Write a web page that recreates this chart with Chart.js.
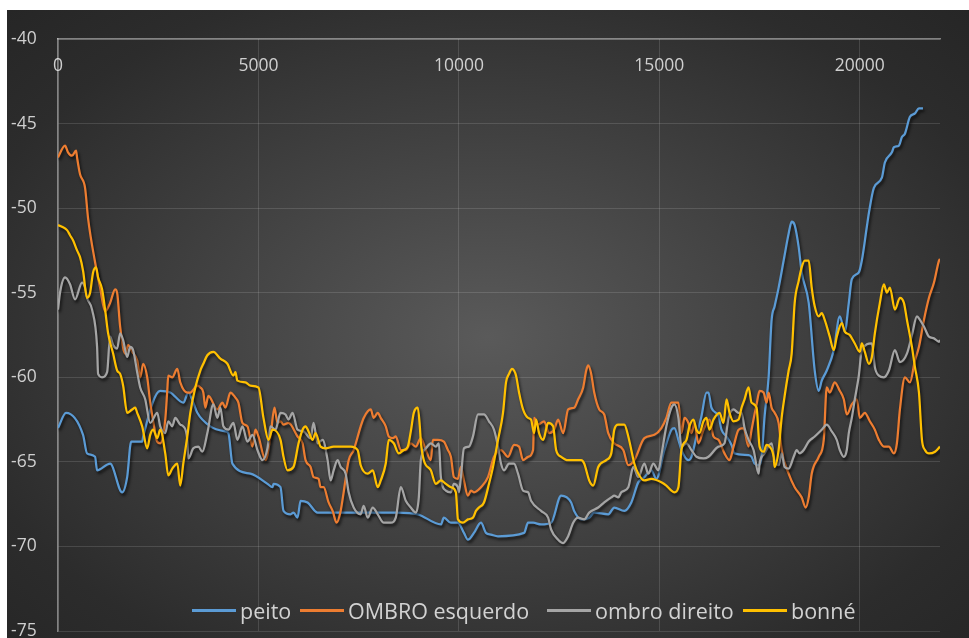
<!DOCTYPE html>
<html>
<head>
<meta charset="utf-8">
<script src="https://cdn.jsdelivr.net/npm/chart.js@4.4.1/dist/chart.umd.min.js"></script>
<style>
  html, body { margin: 0; padding: 0; background: #ffffff; width: 969px; height: 638px; overflow: hidden; font-family: "Open Sans", sans-serif; }
  #panel { position: absolute; left: 7px; top: 10px; width: 962px; height: 628px; overflow: hidden;
           background: radial-gradient(ellipse farthest-corner at 50% 52%, #5a5a5a 0%, #2c2c2c 80%, #262626 100%); }
  #chart { position: absolute; left: 0; top: 0; }
  #legend { position: absolute; left: 0; top: 585px; height: 30px; width: 962px; }
  .item { position: absolute; top: 0; height: 30px; display: flex; align-items: center;
          font-size: 21.5px; color: #d2d2d2; white-space: nowrap; }
  .swatch { width: 44px; height: 3px; margin-right: 4px; }
</style>
</head>
<body>
<div id="panel">
  <canvas id="chart" width="962" height="640" style="width:962px;height:640px"></canvas>
  <div id="legend"></div>
</div>
<script>
// Axis settings
const xTicks = { min: 0, max: 22000, step: 5000, last: 20000 };
const yTicks = { min: -75, max: -40, step: 5 };

// Series names and colours
const seriesNames = ['peito', 'OMBRO esquerdo', 'ombro direito', 'bonné'];
const seriesColors = ['#5B9BD5', '#ED7D31', '#A5A5A5', '#FFC000'];

// Left edge of each legend entry inside the panel
const legendLeft = [185, 293, 540, 736];

// [x, value] pairs for each series
const peito = [[0,-63.0],[200,-62.1],[625,-63.4],[725,-64.5],[925,-64.7],[975,-65.5],[1300,-65.1],[1600,-66.8],[1725,-65.9],[1825,-63.8],[2100,-63.8],[2125,-63.5],[2550,-60.8],[2800,-60.9],[3125,-61.5],[3250,-60.9],[3375,-61.5],[3475,-62.1],[3800,-62.9],[4175,-63.2],[4250,-63.3],[4350,-65.1],[4800,-65.7],[5225,-66.3],[5350,-66.5],[5375,-66.3],[5550,-66.5],[5625,-67.9],[5800,-68.1],[5875,-68.0],[5975,-68.3],[6050,-67.3],[6225,-67.4],[6475,-68.0],[6750,-68.0],[7050,-68.0],[7875,-68.0],[8475,-68.0],[8975,-68.1],[9550,-68.7],[9625,-68.3],[9800,-68.6],[9975,-68.6],[10125,-69.2],[10225,-69.6],[10375,-69.2],[10550,-68.6],[10675,-69.2],[10800,-69.3],[10975,-69.4],[11625,-69.2],[11725,-68.6],[11850,-68.6],[12050,-68.7],[12300,-68.6],[12550,-67.0],[12800,-67.4],[12875,-67.9],[13050,-68.4],[13250,-68.3],[13375,-68.0],[13725,-68.1],[13875,-67.7],[14125,-67.9],[14300,-67.4],[14475,-66.2],[14625,-65.9],[14800,-65.5],[14925,-66.0],[15125,-64.3],[15300,-63.1],[15375,-63.0],[15475,-63.7],[15550,-64.3],[15725,-64.9],[15800,-64.7],[15925,-63.5],[16050,-62.3],[16175,-60.9],[16225,-60.9],[16300,-61.8],[16475,-62.3],[16550,-63.1],[16675,-63.5],[16800,-64.0],[16875,-64.5],[17225,-64.6],[17300,-64.7],[17375,-65.1],[17475,-65.2],[17550,-64.7],[17625,-62.3],[17725,-60.0],[17800,-56.6],[17875,-55.8],[17975,-54.7],[18100,-53.1],[18225,-51.5],[18300,-50.8],[18375,-51.0],[18475,-52.3],[18550,-53.8],[18725,-55.6],[18875,-59.6],[18975,-60.8],[19050,-60.2],[19175,-59.6],[19350,-58.4],[19500,-56.4],[19625,-57.3],[19725,-55.6],[19800,-54.2],[19975,-53.8],[20050,-53.1],[20175,-51.1],[20225,-50.3],[20350,-48.8],[20550,-48.2],[20625,-47.3],[20800,-46.7],[20850,-46.4],[20975,-46.3],[21050,-45.8],[21125,-45.6],[21250,-44.6],[21375,-44.4],[21475,-44.1],[21575,-44.1]];

const ombroEsquerdo = [[0,-47.0],[175,-46.3],[250,-46.7],[350,-46.9],[450,-46.6],[475,-47.0],[550,-48.0],[675,-48.8],[750,-50.6],[925,-53.2],[1050,-54.7],[1175,-56.1],[1300,-55.6],[1425,-54.8],[1475,-55.0],[1550,-57.0],[1675,-58.6],[1750,-58.1],[1850,-58.5],[1975,-59.0],[2050,-60.0],[2125,-59.2],[2225,-60.0],[2300,-61.5],[2375,-62.6],[2475,-63.8],[2550,-63.9],[2675,-62.5],[2725,-60.8],[2750,-59.9],[2850,-60.0],[2975,-59.5],[3050,-60.3],[3225,-60.9],[3300,-60.9],[3475,-60.5],[3550,-60.6],[3625,-60.9],[3675,-61.8],[3750,-61.1],[3975,-61.9],[4100,-61.5],[4175,-61.8],[4300,-60.9],[4425,-61.2],[4500,-61.5],[4600,-62.7],[4725,-62.9],[4850,-64.1],[4925,-63.1],[5000,-63.5],[5175,-64.9],[5300,-63.5],[5400,-61.8],[5475,-62.7],[5550,-62.6],[5625,-62.8],[5750,-62.7],[5975,-63.5],[6100,-63.9],[6175,-64.9],[6300,-65.3],[6375,-65.9],[6500,-66.0],[6550,-66.5],[6625,-66.5],[6750,-67.4],[6850,-67.9],[6950,-68.6],[7050,-67.9],[7125,-66.8],[7250,-64.9],[7375,-64.3],[7550,-62.9],[7625,-62.4],[7800,-61.9],[7875,-62.4],[7975,-62.1],[8050,-62.4],[8175,-62.9],[8250,-63.5],[8350,-63.6],[8425,-63.5],[8550,-64.3],[8675,-64.3],[8800,-63.9],[8925,-64.1],[9050,-63.6],[9175,-64.3],[9300,-64.9],[9350,-63.7],[9475,-63.7],[9625,-63.8],[9725,-64.3],[9800,-64.7],[9875,-65.9],[9975,-66.0],[10050,-65.3],[10125,-66.1],[10225,-67.0],[10300,-66.7],[10375,-66.8],[10550,-66.5],[10725,-65.9],[10875,-64.7],[11050,-64.3],[11225,-64.7],[11375,-64.0],[11500,-64.1],[11600,-64.9],[11725,-64.7],[11850,-64.3],[11875,-62.4],[11975,-62.8],[12125,-62.6],[12250,-63.3],[12375,-63.1],[12475,-62.5],[12600,-63.3],[12725,-61.9],[12875,-61.8],[12975,-61.3],[13100,-60.6],[13175,-59.6],[13225,-59.3],[13300,-59.8],[13375,-60.9],[13500,-61.9],[13625,-62.2],[13725,-63.3],[13875,-63.9],[14100,-64.3],[14225,-65.2],[14375,-64.9],[14625,-63.6],[14875,-63.4],[15050,-63.0],[15175,-62.4],[15300,-61.5],[15375,-61.5],[15475,-61.5],[15550,-63.3],[15625,-62.4],[15725,-62.7],[15800,-63.3],[15875,-62.7],[15975,-63.9],[16100,-63.1],[16250,-62.5],[16350,-63.5],[16475,-63.7],[16625,-64.5],[16750,-64.9],[16850,-64.1],[16975,-63.1],[17100,-63.0],[17225,-64.1],[17300,-63.1],[17425,-61.6],[17500,-60.8],[17600,-60.9],[17675,-61.5],[17725,-60.9],[17800,-61.8],[17875,-62.1],[17975,-62.7],[18050,-64.3],[18225,-65.7],[18375,-66.5],[18550,-67.1],[18650,-67.7],[18725,-67.1],[18800,-65.7],[18975,-64.7],[19100,-63.7],[19175,-60.6],[19250,-60.9],[19375,-60.3],[19500,-60.8],[19600,-61.3],[19675,-62.2],[19800,-61.6],[19925,-61.3],[20000,-62.4],[20125,-62.1],[20250,-62.6],[20375,-63.1],[20475,-63.7],[20600,-64.1],[20725,-64.1],[20850,-64.5],[20925,-63.9],[21000,-61.9],[21125,-60.0],[21250,-60.3],[21375,-59.0],[21475,-58.2],[21600,-56.6],[21725,-55.3],[21850,-54.4],[21975,-53.1],[22000,-53.0]];

const ombroDireito = [[0,-56.0],[50,-55.0],[175,-54.1],[300,-54.5],[425,-55.4],[600,-54.4],[675,-54.7],[725,-55.3],[850,-56.0],[975,-58.2],[1000,-59.8],[1100,-60.0],[1225,-59.7],[1300,-57.6],[1375,-58.1],[1475,-58.3],[1550,-57.4],[1625,-57.8],[1725,-58.8],[1800,-58.2],[1875,-58.4],[1975,-59.7],[2050,-60.6],[2175,-61.3],[2300,-62.7],[2475,-62.1],[2550,-62.9],[2675,-63.3],[2750,-62.6],[2850,-62.9],[2925,-62.4],[3050,-62.8],[3125,-62.9],[3225,-63.7],[3250,-64.8],[3375,-64.2],[3500,-64.1],[3600,-64.4],[3725,-63.3],[3875,-61.6],[3975,-62.4],[4050,-61.8],[4125,-62.9],[4250,-63.1],[4375,-62.7],[4475,-63.7],[4600,-62.9],[4725,-63.8],[4850,-63.4],[4975,-64.3],[5100,-64.9],[5225,-64.2],[5300,-62.9],[5425,-63.1],[5550,-62.1],[5675,-62.2],[5750,-62.5],[5850,-62.1],[5975,-63.1],[6125,-63.2],[6300,-63.6],[6375,-62.7],[6475,-63.9],[6600,-63.7],[6725,-64.9],[6800,-66.1],[6875,-65.5],[6975,-64.9],[7050,-65.3],[7175,-65.7],[7250,-66.8],[7375,-67.7],[7550,-68.1],[7625,-67.6],[7725,-68.3],[7850,-67.7],[7975,-68.1],[8125,-68.6],[8300,-68.6],[8425,-68.3],[8550,-66.5],[8675,-67.3],[8800,-67.7],[8925,-68.0],[9000,-67.1],[9050,-64.9],[9175,-64.2],[9300,-63.9],[9425,-64.1],[9500,-63.9],[9550,-65.9],[9675,-66.7],[9800,-66.8],[9875,-66.3],[9975,-66.5],[10000,-66.8],[10050,-65.9],[10125,-64.2],[10250,-64.1],[10350,-63.5],[10475,-62.2],[10625,-62.2],[10750,-62.6],[10875,-63.1],[10975,-64.1],[11050,-65.1],[11125,-65.5],[11250,-65.1],[11375,-65.1],[11475,-65.7],[11600,-66.7],[11725,-66.8],[11800,-67.3],[12050,-67.9],[12225,-68.3],[12300,-69.0],[12475,-69.6],[12600,-69.8],[12725,-69.4],[12850,-68.6],[12975,-68.3],[13125,-68.4],[13250,-68.0],[13475,-67.7],[13625,-67.4],[13800,-67.1],[13875,-67.0],[13975,-67.1],[14050,-66.8],[14225,-66.5],[14350,-65.3],[14475,-65.9],[14625,-65.1],[14725,-65.7],[14850,-65.1],[14975,-65.5],[15050,-64.6],[15175,-62.9],[15300,-61.8],[15375,-61.6],[15475,-62.4],[15550,-64.1],[15675,-63.9],[15800,-64.3],[15925,-64.7],[16100,-64.8],[16225,-64.7],[16475,-64.1],[16625,-63.9],[16725,-62.4],[16850,-61.9],[16975,-62.1],[17050,-62.1],[17125,-63.0],[17225,-63.7],[17350,-64.3],[17475,-65.7],[17500,-65.1],[17625,-64.5],[17800,-63.9],[17875,-64.9],[17975,-65.2],[18050,-64.5],[18125,-65.3],[18225,-65.4],[18350,-64.7],[18425,-64.3],[18500,-64.5],[18600,-64.3],[18725,-63.8],[18875,-63.5],[19050,-63.1],[19175,-62.8],[19300,-63.2],[19425,-63.7],[19500,-64.3],[19600,-64.7],[19675,-64.3],[19725,-63.3],[19800,-62.4],[19875,-61.3],[19975,-59.9],[20050,-58.4],[20300,-58.0],[20375,-59.4],[20475,-59.9],[20600,-60.0],[20725,-59.6],[20875,-58.4],[21000,-59.1],[21175,-58.6],[21300,-57.5],[21425,-56.4],[21500,-56.6],[21600,-57.0],[21725,-57.6],[21850,-57.7],[21975,-57.9],[22000,-57.8]];

const bonne = [[0,-51.0],[100,-51.1],[225,-51.3],[300,-51.6],[375,-51.9],[475,-52.5],[550,-52.9],[625,-53.7],[725,-55.3],[800,-55.0],[875,-53.8],[950,-53.5],[1000,-54.1],[1100,-54.8],[1175,-56.0],[1250,-57.4],[1375,-58.6],[1475,-59.6],[1550,-59.8],[1625,-60.5],[1725,-62.1],[1850,-61.9],[1925,-61.8],[1975,-62.1],[2100,-62.9],[2225,-64.2],[2300,-63.4],[2375,-63.1],[2475,-63.6],[2550,-63.1],[2675,-64.5],[2750,-65.8],[2850,-65.4],[2975,-65.1],[3050,-66.4],[3125,-65.1],[3225,-63.5],[3300,-62.1],[3425,-60.6],[3550,-59.6],[3625,-59.2],[3725,-58.7],[3875,-58.5],[4050,-58.9],[4225,-59.2],[4375,-59.9],[4425,-59.7],[4475,-60.2],[4675,-60.3],[4800,-60.5],[5000,-60.6],[5125,-62.4],[5250,-63.7],[5350,-63.1],[5550,-63.7],[5625,-64.7],[5725,-65.5],[5875,-65.3],[6000,-63.9],[6100,-63.1],[6175,-62.9],[6250,-63.2],[6350,-63.7],[6425,-63.3],[6550,-64.1],[6675,-64.2],[6875,-64.1],[7050,-64.1],[7300,-64.1],[7475,-64.3],[7550,-65.2],[7725,-65.7],[7850,-65.5],[7975,-66.5],[8050,-66.1],[8175,-65.1],[8250,-63.7],[8375,-63.9],[8500,-64.5],[8625,-64.3],[8725,-64.1],[8800,-63.2],[8875,-62.1],[8975,-61.8],[9025,-62.9],[9050,-63.8],[9125,-64.9],[9300,-65.5],[9425,-66.3],[9550,-66.1],[9675,-66.3],[9800,-66.5],[9925,-66.8],[9975,-68.4],[10100,-68.6],[10225,-68.4],[10350,-68.3],[10425,-67.9],[10500,-67.7],[10625,-67.4],[10750,-66.3],[10850,-65.3],[10975,-63.7],[11100,-62.1],[11175,-60.3],[11250,-59.8],[11325,-59.5],[11375,-59.6],[11425,-59.9],[11500,-60.9],[11600,-61.9],[11725,-62.4],[11800,-62.5],[11875,-63.3],[11925,-62.5],[12000,-63.3],[12100,-63.7],[12225,-62.7],[12350,-62.9],[12425,-64.3],[12550,-64.7],[12725,-64.9],[13050,-64.9],[13125,-65.1],[13250,-66.1],[13350,-66.4],[13475,-65.3],[13675,-64.9],[13800,-64.5],[13875,-63.1],[13975,-62.8],[14125,-62.8],[14225,-63.5],[14300,-64.3],[14375,-65.1],[14475,-65.7],[14625,-66.1],[14800,-66.0],[15050,-66.2],[15175,-66.4],[15300,-66.7],[15375,-66.8],[15475,-66.5],[15550,-64.3],[15675,-63.7],[15750,-62.9],[15850,-62.5],[15925,-63.1],[16000,-63.3],[16100,-62.6],[16175,-62.4],[16250,-63.1],[16350,-62.5],[16500,-62.1],[16600,-62.7],[16675,-61.3],[16750,-62.1],[16850,-62.6],[16975,-62.5],[17050,-61.8],[17125,-61.3],[17225,-60.6],[17300,-61.5],[17425,-61.8],[17500,-64.1],[17600,-64.4],[17675,-64.0],[17750,-64.1],[17850,-64.7],[17875,-65.3],[17975,-64.3],[18050,-62.4],[18125,-61.1],[18225,-59.6],[18300,-58.6],[18375,-55.6],[18475,-54.3],[18550,-53.5],[18625,-53.1],[18725,-53.1],[18800,-54.7],[18875,-55.8],[18975,-56.4],[19050,-56.2],[19125,-56.6],[19250,-57.6],[19350,-58.4],[19425,-57.6],[19550,-56.8],[19625,-57.3],[19750,-57.5],[19875,-58.0],[20000,-58.5],[20050,-58.0],[20125,-58.5],[20225,-59.2],[20300,-58.8],[20375,-57.4],[20500,-55.6],[20600,-54.5],[20675,-55.0],[20750,-54.7],[20875,-56.0],[21000,-55.3],[21100,-55.6],[21175,-56.6],[21300,-58.2],[21375,-59.4],[21475,-60.9],[21550,-63.7],[21625,-64.3],[21725,-64.5],[21875,-64.4],[22000,-64.1]];

const seriesData = [peito, ombroEsquerdo, ombroDireito, bonne];

// Soft dark drop shadow under every line
const lineShadow = {
  id: 'lineShadow',
  beforeDatasetDraw(chart) {
    const c = chart.ctx;
    c.save();
    c.shadowColor = 'rgba(0,0,0,0.7)';
    c.shadowBlur = 3;
    c.shadowOffsetX = 1.5;
    c.shadowOffsetY = 2.5;
  },
  afterDatasetDraw(chart) { chart.ctx.restore(); }
};

const tickFont = { family: '"Open Sans", sans-serif', size: 17.5 };
const tickColor = '#cfcfcf';
const gridColor = 'rgba(255,255,255,0.13)';
const axisColor = 'rgba(255,255,255,0.42)';

const datasets = seriesData.map((pts, i) => ({
  label: seriesNames[i],
  data: pts.map(p => ({ x: p[0], y: p[1] })),
  borderColor: seriesColors[i],
  backgroundColor: seriesColors[i],
  borderWidth: 2.25,
  pointRadius: 0,
  cubicInterpolationMode: 'monotone',
  fill: false,
  order: seriesNames.length - i
}));

new Chart(document.getElementById('chart'), {
  type: 'line',
  data: { datasets },
  options: {
    responsive: false,
    animation: false,
    devicePixelRatio: 1,
    layout: { padding: { left: 4, top: 29, right: 29, bottom: 19 } },
    plugins: { legend: { display: false }, tooltip: { enabled: false } },
    scales: {
      x: {
        type: 'linear',
        position: { y: yTicks.max },
        min: xTicks.min,
        max: xTicks.max,
        grid: { color: gridColor, drawTicks: false, lineWidth: 1 },
        border: { color: axisColor, width: 1.5 },
        afterBuildTicks: s => {
          const t = [];
          for (let v = xTicks.min; v <= xTicks.last; v += xTicks.step) t.push({ value: v });
          s.ticks = t;
        },
        ticks: {
          padding: 17,
          color: tickColor,
          font: tickFont,
          maxRotation: 0,
          autoSkip: false,
          callback: v => String(v)
        }
      },
      y: {
        min: yTicks.min,
        max: yTicks.max,
        grid: { color: gridColor, drawTicks: false, lineWidth: 1 },
        border: { color: axisColor, width: 1.5 },
        ticks: {
          stepSize: yTicks.step,
          crossAlign: 'far',
          color: tickColor,
          font: tickFont,
          callback: v => String(v)
        },
        afterFit: s => { s.width = 47; }
      }
    }
  },
  plugins: [lineShadow]
});

// Legend row under the lines
const legend = document.getElementById('legend');
seriesNames.forEach((name, i) => {
  const item = document.createElement('div');
  item.className = 'item';
  item.style.left = legendLeft[i] + 'px';
  const sw = document.createElement('span');
  sw.className = 'swatch';
  sw.style.background = seriesColors[i];
  const tx = document.createElement('span');
  tx.textContent = name;
  item.appendChild(sw);
  item.appendChild(tx);
  legend.appendChild(item);
});
</script>
</body>
</html>
